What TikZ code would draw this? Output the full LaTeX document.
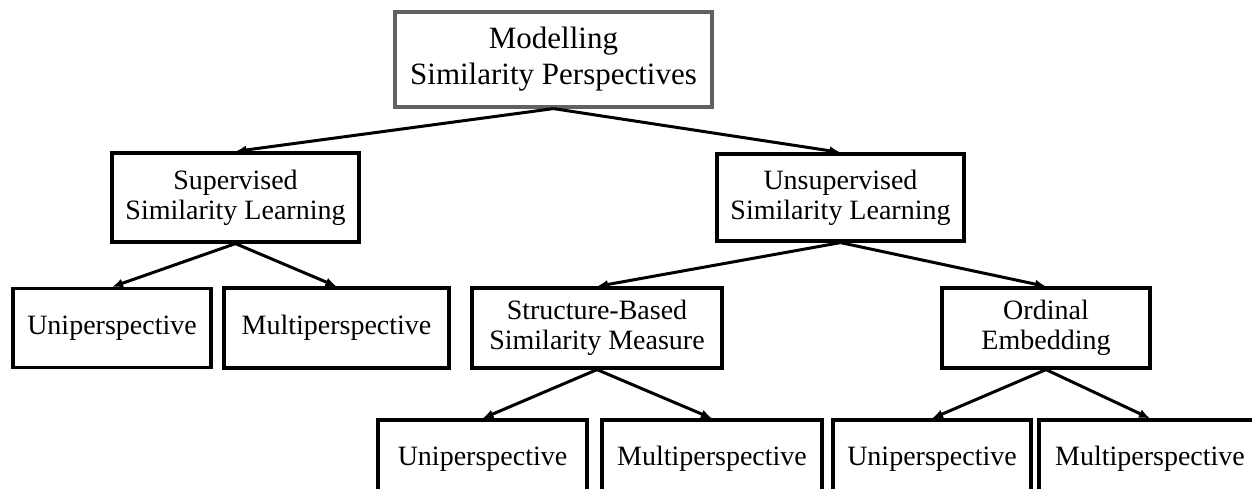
\documentclass[tikz,border=0pt]{standalone}
\usepackage{fontspec}
\setmainfont{Liberation Serif}
\usetikzlibrary{arrows.meta}
\begin{document}
\begin{tikzpicture}[x=1pt,y=-1pt,
  box/.style={draw=black, line width=3.2pt, align=center, inner sep=0pt,
    font=\fontsize{28}{30}\selectfont, text=black},
  rootbox/.style={box, draw=black!62, font=\fontsize{31}{36}\selectfont},
  link/.style={line width=3pt, -{Latex[length=11pt,width=9pt]}}]
  \useasboundingbox (0,0) rectangle (1252,488);
  \clip (0,0) rectangle (1252,488);

  % root
  \node[rootbox, minimum width=317pt, minimum height=95pt] (root) at (553.5,59.5)
    {Modelling\\Similarity Perspectives};

  % second level
  \node[box, minimum width=247pt, minimum height=89pt] (sup) at (235.5,197.5)
    {Supervised\\Similarity Learning};
  \node[box, minimum width=247pt, minimum height=87pt] (unsup) at (840.5,197.5)
    {Unsupervised\\Similarity Learning};

  % third level
  \node[box, minimum width=198pt, minimum height=79pt] (uniA) at (112,328)
    {Uniperspective};
  \node[box, minimum width=225pt, minimum height=80pt] (multiA) at (336.5,328)
    {Multiperspective};
  \node[box, minimum width=250pt, minimum height=80pt] (struct) at (597,328)
    {Structure-Based\\Similarity Measure};
  \node[box, minimum width=208pt, minimum height=80pt] (ord) at (1046,328)
    {Ordinal\\Embedding};

  % fourth level
  \node[box, minimum width=209pt, minimum height=78pt] (uniB) at (482.5,459)
    {Uniperspective};
  \node[box, minimum width=220pt, minimum height=78pt] (multiB) at (712,459)
    {Multiperspective};
  \node[box, minimum width=198pt, minimum height=78pt] (uniC) at (932,459)
    {Uniperspective};
  \node[box, minimum width=222pt, minimum height=78pt] (multiC) at (1150,459)
    {Multiperspective};

  % connectors
  \draw[link] (root.south) -- (sup.north);
  \draw[link] (root.south) -- (unsup.north);
  \draw[link] (sup.south) -- (uniA.north);
  \draw[link] (sup.south) -- (multiA.north);
  \draw[link] (unsup.south) -- (struct.north);
  \draw[link] (unsup.south) -- (ord.north);
  \draw[link] (struct.south) -- (uniB.north);
  \draw[link] (struct.south) -- (multiB.north);
  \draw[link] (ord.south) -- (uniC.north);
  \draw[link] (ord.south) -- (multiC.north);
\end{tikzpicture}
\end{document}
